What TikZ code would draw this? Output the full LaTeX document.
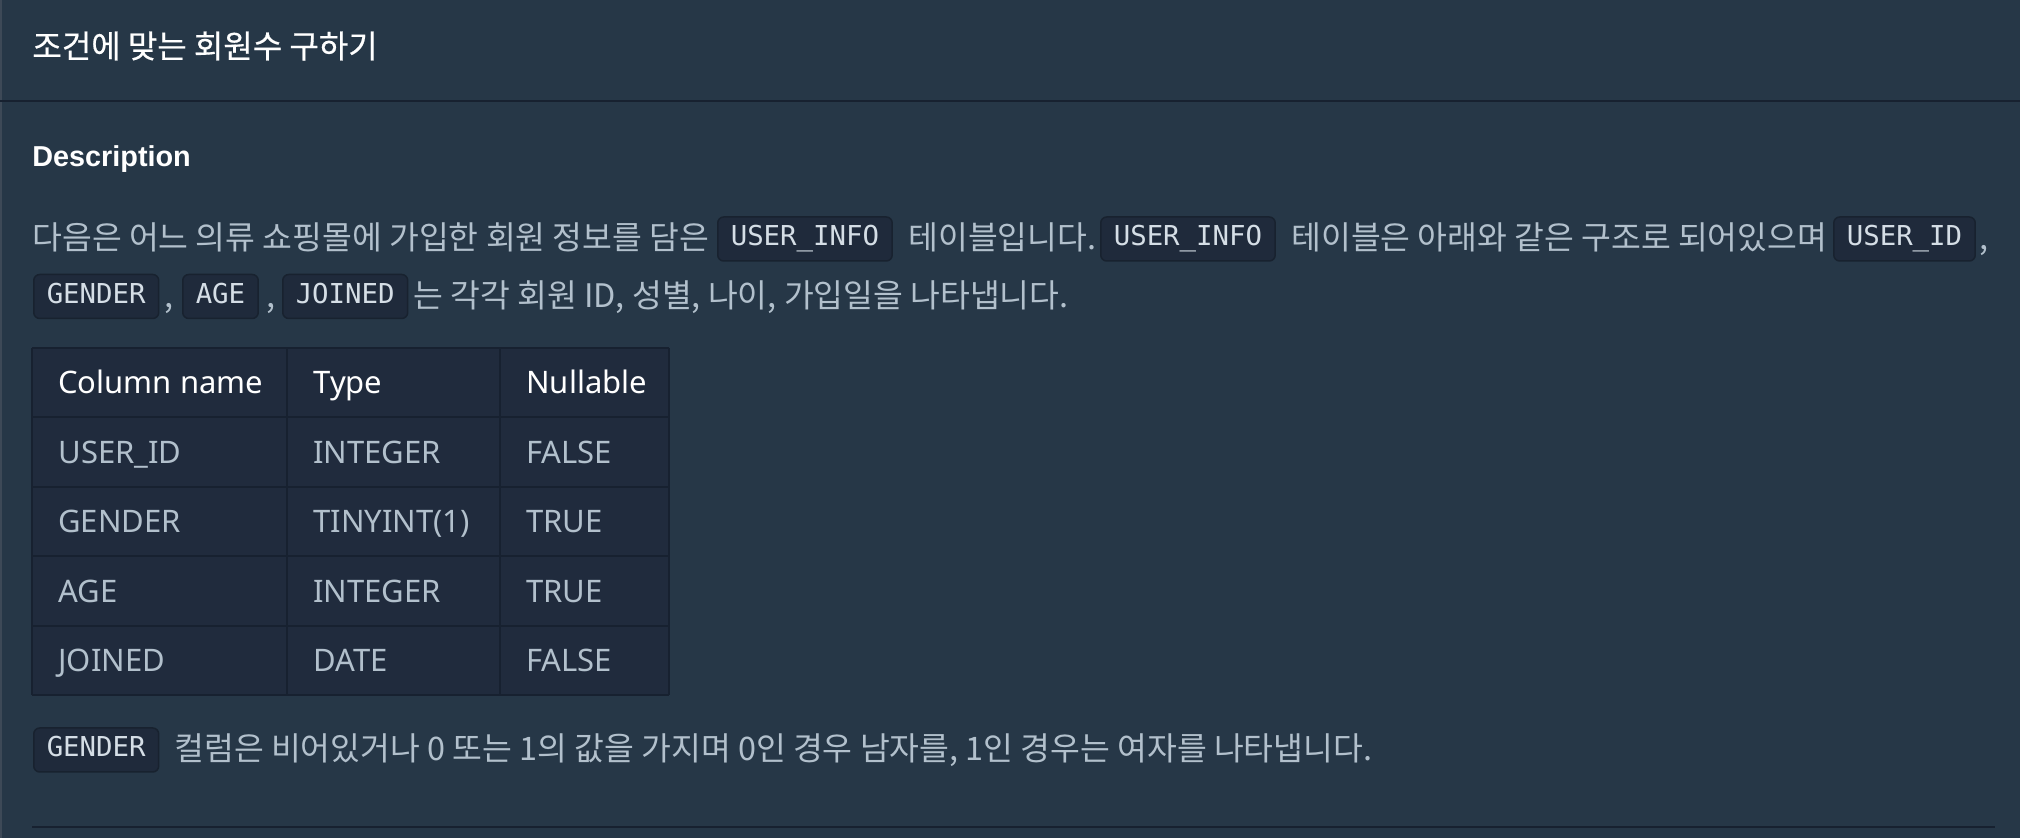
\documentclass[tikz,border=0pt]{standalone}
\usepackage{fontspec}
\setmainfont{Noto Sans}
\setmonofont{DejaVu Sans Mono}
\newfontfamily\kr{Noto Sans CJK KR}
\newfontfamily\krtitle[FakeBold=0.5]{Noto Sans CJK KR}
\newfontfamily\headfont{Liberation Sans}
\definecolor{pagebg}{HTML}{263747}
\definecolor{edgecol}{HTML}{3D4957}
\definecolor{divcol}{HTML}{172130}
\definecolor{codebg}{HTML}{1F2A3B}
\definecolor{codeline}{HTML}{18222F}
\definecolor{codetxt}{HTML}{D5DEE6}
\definecolor{bodytxt}{HTML}{B2C0CC}
\definecolor{tablebg}{HTML}{202B3D}

\begin{document}
\begin{tikzpicture}[x=0.5pt,y=-0.5pt,
	txt/.style={anchor=base west,inner sep=0pt,text=bodytxt,font=\kr\fontsize{16.2}{19}\selectfont},
	codebox/.style={anchor=west,fill=codebg,draw=codeline,line width=0.75pt,rounded corners=3pt,
		text=codetxt,font=\ttfamily\fontsize{13.7}{16}\selectfont,inner xsep=6.5pt,inner ysep=0pt,
		minimum height=22pt,text height=0.9em,text depth=0.2em},
	cell/.style={anchor=base west,inner sep=0pt,text=bodytxt,font=\fontsize{15.5}{18}\selectfont},
	divline/.style={draw=divcol,line width=1pt}]
	\useasboundingbox (0,0) rectangle (2020,838);
	\fill[pagebg] (0,0) rectangle (2020,838);
	\fill[edgecol] (0,0) rectangle (2,838);
%	header
	\node[txt,text=white,font=\krtitle\fontsize{16}{19}\selectfont] (title) at (32,58) {조건에 맞는 회원수 구하기};
	\draw[divline] (0,101.5) -- (2020,101.5);
	\node[txt,text=white,font=\headfont\bfseries\fontsize{14.4}{17}\selectfont] (desc) at (32,167) {Description};
%	first paragraph
	\node[txt] (p1a) at (32,250) {다음은 어느 의류 쇼핑몰에 가입한 회원 정보를 담은};
	\node[codebox] (info1) at (717,239) {USER\_INFO};
	\node[txt] (p1b) at (908,250) {테이블입니다.};
	\node[codebox] (info2) at (1100,239) {USER\_INFO};
	\node[txt] (p1c) at (1291,250) {테이블은 아래와 같은 구조로 되어있으며};
	\node[codebox] (uid) at (1833,239) {USER\_ID};
	\node[txt] (cm1) at (1979,250) {,};
	\node[codebox] (gen1) at (33,296.5) {GENDER};
	\node[txt] (cm2) at (164,308) {,};
	\node[codebox] (age) at (182,296.5) {AGE};
	\node[txt] (cm3) at (266,308) {,};
	\node[codebox] (join) at (282,296.5) {JOINED};
	\node[txt] (p2a) at (413,308) {는 각각 회원 ID, 성별, 나이, 가입일을 나타냅니다.};
%	table
	\fill[tablebg] (32,348) rectangle (669,695);
	\foreach \y in {348,417.4,486.8,556.2,625.6,695}
		\draw[divline] (32,\y) -- (669,\y);
	\foreach \x in {32,287,500,669}
		\draw[divline] (\x,348) -- (\x,695);
	\foreach \c/\x/\t in {1/58/Column name,2/313/Type,3/526/Nullable}
		\node[cell,text=white] (h\c) at (\x,394) {\t};
	\foreach \r/\a/\b/\d in {1/USER\_ID/INTEGER/FALSE,2/GENDER/TINYINT(1)/TRUE,
		3/AGE/INTEGER/TRUE,4/JOINED/DATE/FALSE} {
		\node[cell] (r\r a) at (58,394+69.4*\r) {\a};
		\node[cell] (r\r b) at (313,394+69.4*\r) {\b};
		\node[cell] (r\r c) at (526,394+69.4*\r) {\d};
	}
%	second paragraph
	\node[codebox] (gen2) at (33,750) {GENDER};
	\node[txt] (p3a) at (174,761) {컬럼은 비어있거나 0 또는 1의 값을 가지며 0인 경우 남자를, 1인 경우는 여자를 나타냅니다.};
	\draw[divline] (32,827) -- (1995,827);
\end{tikzpicture}
\end{document}
